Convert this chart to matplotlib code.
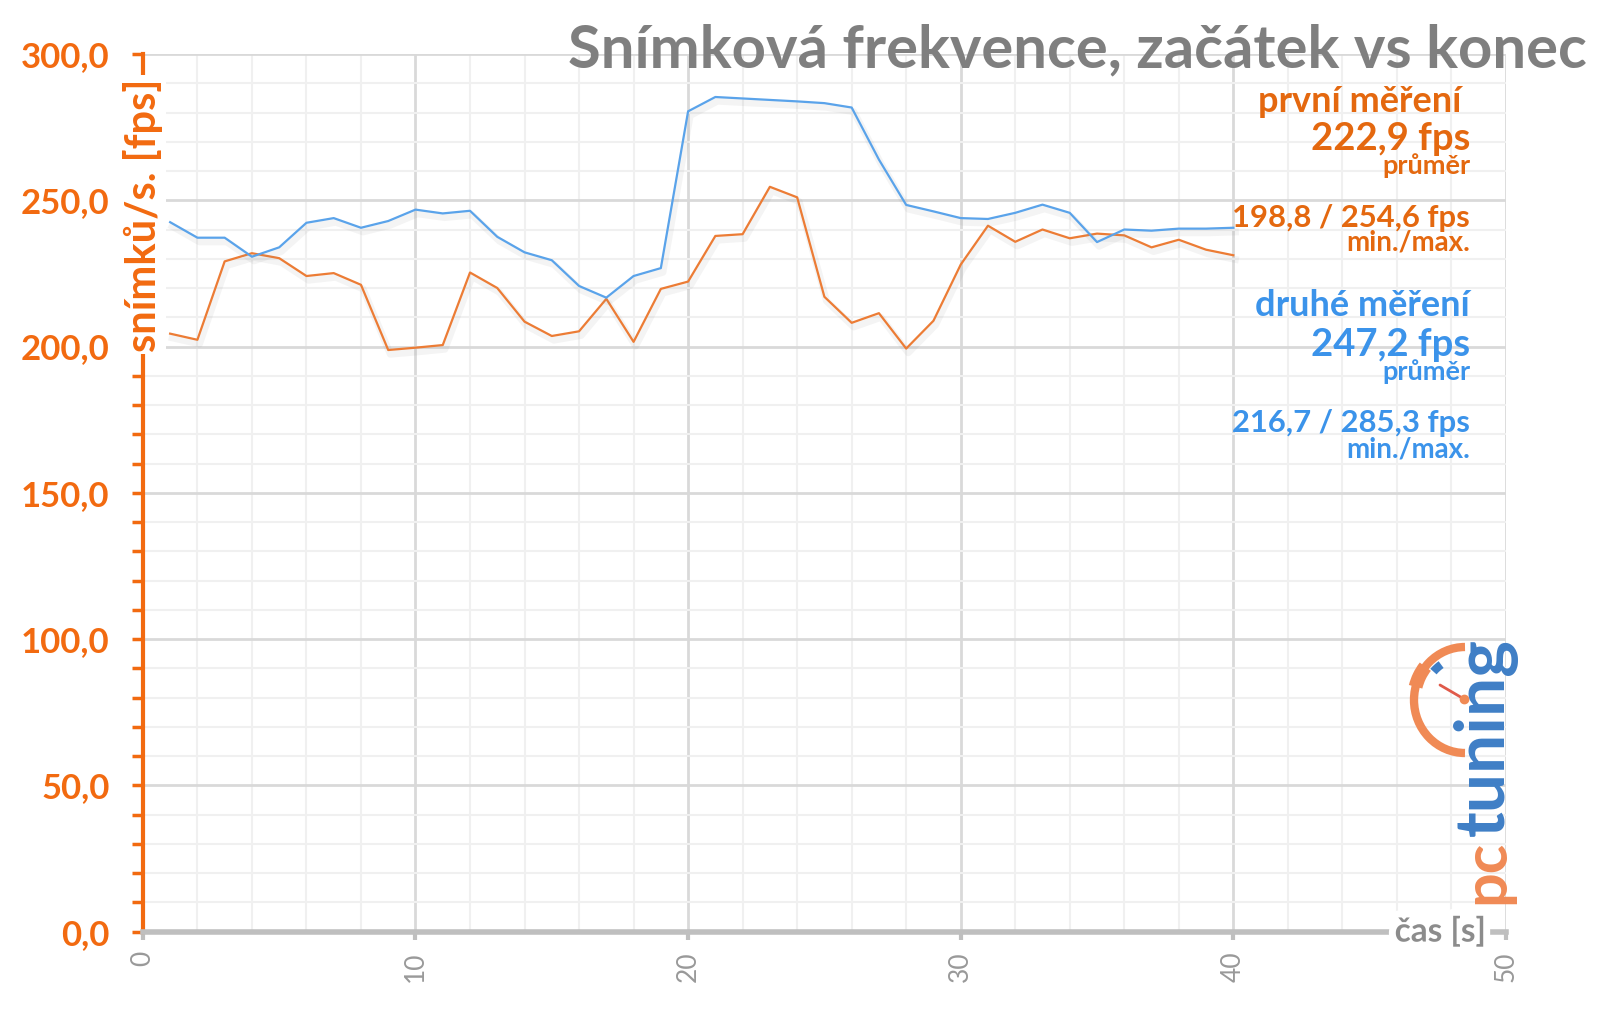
import matplotlib
matplotlib.use("Agg")
import matplotlib.pyplot as plt
import matplotlib.patheffects as pe
from matplotlib.patches import Arc
from matplotlib.ticker import MultipleLocator, FuncFormatter

plt.rcParams['font.family'] = ['Lato', 'DejaVu Sans']

# seconds 1..40
seconds = list(range(1, 41))

# první měření (start)
first_fps = [204.4, 202.3, 229.1, 231.9, 230.2, 224.1, 225.1, 221.1, 198.8, 199.6,
             200.5, 225.3, 220.0, 208.5, 203.6, 205.2, 216.3, 201.6, 219.7, 222.2,
             237.8, 238.4, 254.6, 251.0, 217.0, 208.1, 211.4, 199.3, 208.8, 228.0,
             241.3, 235.8, 240.0, 237.0, 238.6, 238.0, 233.9, 236.5, 233.1, 231.2]

# druhé měření (end)
second_fps = [242.5, 237.2, 237.2, 230.7, 233.9, 242.3, 243.9, 240.6, 242.9, 246.8,
              245.5, 246.4, 237.5, 232.2, 229.5, 220.7, 216.7, 224.1, 226.8, 280.4,
              285.3, 284.8, 284.3, 283.8, 283.2, 281.7, 263.9, 248.4, 246.2, 243.9,
              243.6, 245.7, 248.5, 245.7, 235.7, 240.0, 239.6, 240.3, 240.3, 240.6]

first_stats = ["první měření ", "222,9 fps", "průměr", "198,8 / 254,6 fps", "min./max."]
second_stats = ["druhé měření", "247,2 fps", "průměr", "216,7 / 285,3 fps", "min./max."]

ORANGE_TXT = '#f26a10'
ORANGE_NOTE = '#e4680f'
BLUE_NOTE = '#3b93ea'
LINE_ORANGE = '#ec7c35'
LINE_BLUE = '#5aa3ea'
GREY = '#7f7f7f'

fig = plt.figure(figsize=(16, 10.15), dpi=100)
ax = fig.add_axes([0.0893, 0.0822, 0.8519, 0.8646])

shadow = [pe.SimpleLineShadow(offset=(1.5, -3), shadow_color='#888888', alpha=0.09, linewidth=5),
          pe.Normal()]
ax.plot(seconds, first_fps, color=LINE_ORANGE, lw=1.6, path_effects=shadow, zorder=3)
ax.plot(seconds, second_fps, color=LINE_BLUE, lw=1.6, path_effects=shadow, zorder=3)

ax.set_xlim(0, 50)
ax.set_ylim(0, 300)

ax.xaxis.set_major_locator(MultipleLocator(10))
ax.xaxis.set_minor_locator(MultipleLocator(2))
ax.yaxis.set_major_locator(MultipleLocator(50))
ax.yaxis.set_minor_locator(MultipleLocator(10))
ax.yaxis.set_major_formatter(FuncFormatter(lambda v, p: f"{v:.1f}".replace('.', ',')))

ax.grid(which='major', color='#d9d9d9', lw=2.0, zorder=0)
ax.grid(which='minor', color='#f0f0f0', lw=1.5, zorder=0)
ax.set_axisbelow(True)

for s in ['top', 'right']:
    ax.spines[s].set_visible(False)
ax.spines['left'].set_color('#f26a10')
ax.spines['left'].set_linewidth(3)
ax.spines['bottom'].set_color('#bfbfbf')
ax.spines['bottom'].set_linewidth(4)

ax.tick_params(axis='y', which='both', direction='out', length=8, width=2.5,
               color='#f26a10', labelcolor=ORANGE_TXT, labelsize=25, pad=16)
for lab in ax.get_yticklabels():
    lab.set_fontweight('bold')
ax.tick_params(axis='x', which='major', direction='out', length=6, width=3,
               color='#bfbfbf', labelcolor='#999999', labelsize=19, pad=8,
               labelrotation=90)
ax.tick_params(axis='x', which='minor', length=0)

# y axis title sitting on the spine
ax.text(0, 245, "snímků/s. [fps]", rotation=90, ha='center', va='center',
        fontsize=30, fontweight='bold', color=ORANGE_TXT, zorder=6, clip_on=False,
        bbox=dict(facecolor='white', edgecolor='none', pad=2))

# x axis title sitting on the axis line
ax.text(47.6, 0, "čas [s]", ha='center', va='center', fontsize=24,
        fontweight='bold', color='#8c8c8c', zorder=6, clip_on=False,
        path_effects=[pe.withStroke(linewidth=10, foreground='white')])

fig.text(0.992, 1 - 50 / 1015, "Snímková frekvence, začátek vs konec", ha='right',
         va='center', fontsize=43, fontweight='bold', color=GREY)

# right side stats
note_x = 1470 / 1600
note_y = [101, 139, 166, 218, 242]
note_sz = [26, 27.5, 19.5, 22.3, 20]
for txt, y, sz in zip(first_stats, note_y, note_sz):
    fig.text(note_x, 1 - y / 1015, txt, ha='right', va='center', fontsize=sz,
             fontweight='bold', color=ORANGE_NOTE)
note_y2 = [306, 345, 372, 423, 449]
for txt, y, sz in zip(second_stats, note_y2, note_sz):
    fig.text(note_x, 1 - y / 1015, txt, ha='right', va='center', fontsize=sz,
             fontweight='bold', color=BLUE_NOTE)

# pctuning logo in pixel space (y axis points down)
lg = fig.add_axes([0, 0, 1, 1], facecolor='none')
lg.set_xlim(0, 1600)
lg.set_ylim(1015, 0)
lg.axis('off')
lg.add_patch(Arc((1465, 700), 102, 106, theta1=90, theta2=270, color='#f08a55', lw=6))
lg.add_patch(Arc((1465, 700), 102, 106, theta1=195, theta2=220, color='#f08a55', lw=10))
lg.add_patch(Arc((1465, 700), 84, 86, theta1=222, theta2=236, color='#3f7fc6', lw=6))
lg.plot([1464, 1440], [699, 685], color='#e05a4a', lw=2, solid_capstyle='round')
lg.plot([1464], [699], 'o', color='#f08a55', ms=6)
lg.text(1504, 904, "pc", rotation=90, rotation_mode='anchor', ha='left', va='baseline',
        fontsize=44, fontweight='bold', color='#f08a55')
lg.text(1504, 836, "tuning", rotation=90, rotation_mode='anchor', ha='left', va='baseline',
        fontsize=50, fontweight='bold', color='#3f7fc6')

fig.savefig("out.png", dpi=100, facecolor='white')
